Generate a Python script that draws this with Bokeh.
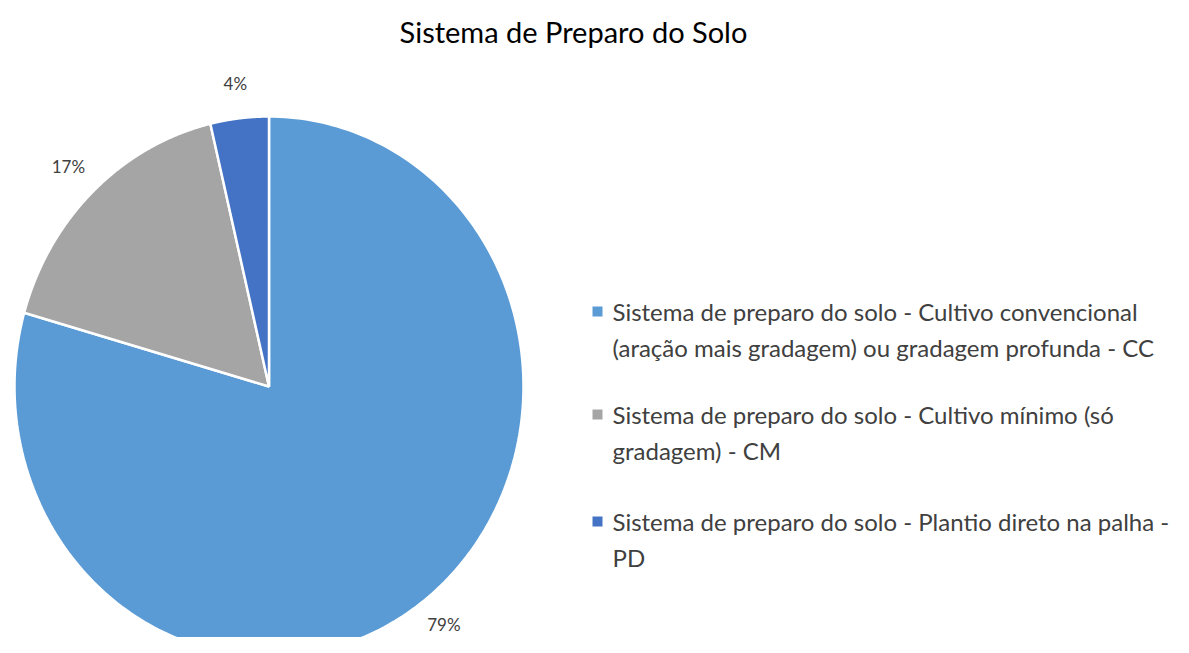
import numpy as np
from bokeh.plotting import figure
from bokeh.models import Range1d
from bokeh.core.properties import value
from bokeh.embed import file_html
from bokeh.resources import INLINE

# ---- data ----
title = "Sistema de Preparo do Solo"
categories = ["CC", "CM", "PD"]
shares = [79.4, 16.9, 3.7]
colors = ["#5B9BD5", "#A5A5A5", "#4472C4"]
legend_lines = [
    ["Sistema de preparo do solo - Cultivo convencional",
     "(aração mais gradagem) ou gradagem profunda - CC"],
    ["Sistema de preparo do solo - Cultivo mínimo (só",
     "gradagem) - CM"],
    ["Sistema de preparo do solo - Plantio direto na palha -",
     "PD"],
]

FONT = "Lato"
TXT = "#404040"

W, H = 1173, 637
p = figure(width=W, height=H, output_backend="svg", toolbar_location=None,
           x_range=Range1d(0, W), y_range=Range1d(H, 0),
           min_border=0, outline_line_color=None)
p.axis.visible = False
p.grid.visible = False

# pie geometry (screen-like coordinates, y downward)
cx, cy, rx, ry = 268.5, 386.0, 254.5, 270.0
vals = np.array(shares, dtype=float)
frac = vals / vals.sum()
ends = np.cumsum(frac)
starts = ends - frac
xs, ys, lx, ly = [], [], [], []
for s, e in zip(starts, ends):
    phi = np.linspace(s, e, 240) * 2 * np.pi
    xs.append(list(np.r_[cx, cx + rx * np.sin(phi), cx]))
    ys.append(list(np.r_[cy, cy - ry * np.cos(phi), cy]))
    m = (s + e) * np.pi
    lx.append(cx + rx * 1.14 * np.sin(m))
    ly.append(min(cy - ry * 1.13 * np.cos(m), H - 13))

p.patches(xs=xs, ys=ys, fill_color=colors, line_color="white", line_width=2.5)

labels = [f"{round(v)}%" for v in shares]
p.text(x=lx, y=ly, text=labels, text_font=value(FONT), text_font_size="17px",
       text_color=TXT, text_align="center", text_baseline="middle")

# title
p.text(x=[573], y=[31], text=[title], text_font=value(FONT), text_font_size="29px",
       text_color="#000000", text_align="center", text_baseline="middle")

# legend
item_y = [311, 414, 521]
line_gap = 36
p.scatter(x=[597] * 3, y=item_y, marker="square", size=10, fill_color=colors,
          line_color=None)
tx, ty, tt = [], [], []
for y0, lines in zip(item_y, legend_lines):
    for i, t in enumerate(lines):
        tx.append(612)
        ty.append(y0 + i * line_gap)
        tt.append(t)
p.text(x=tx, y=ty, text=tt, text_font=value(FONT), text_font_size="24px",
       text_color=TXT, text_align="left", text_baseline="middle")

open("out.html", "w").write(file_html(p, INLINE))
